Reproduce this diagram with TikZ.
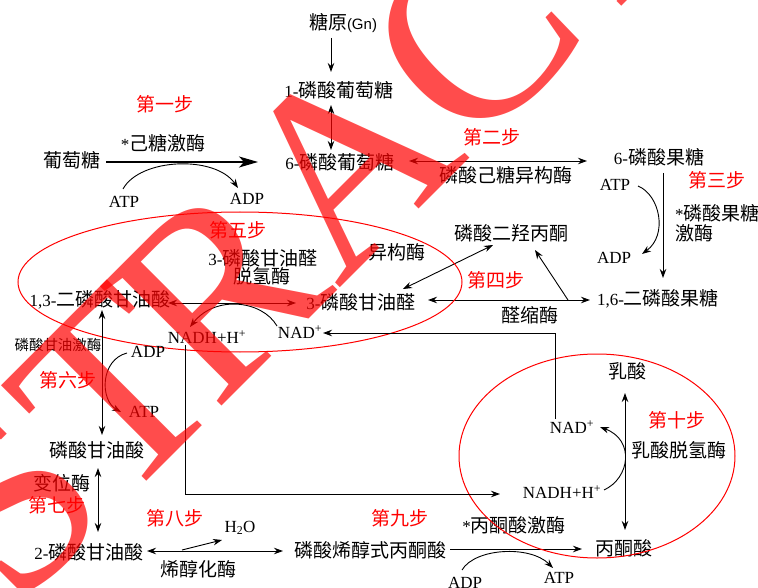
\documentclass[tikz,border=0pt]{standalone}
\usepackage{fontspec}
\setmainfont{Liberation Serif}
\newfontfamily\cjk{Noto Sans CJK SC}
\newfontfamily\lsans{Liberation Sans}
\usetikzlibrary{arrows.meta}
\newcommand{\C}[1]{{\fontsize{19}{21}\selectfont\cjk #1}}
\newcommand{\Cs}[1]{{\fontsize{14.5}{16}\selectfont\cjk #1}}
\begin{document}
\begin{tikzpicture}[x=1pt,y=-1pt,
  lbl/.style={inner sep=0pt, font=\fontsize{17}{20}\selectfont, text=black},
  steplbl/.style={inner sep=0pt, font=\fontsize{19}{21}\selectfont\cjk, text=red},
  ar/.style={line width=0.9pt, -{Stealth[length=9pt,width=6.5pt]}},
  bigar/.style={line width=1.2pt, -{Stealth[length=19pt,width=11pt,inset=5pt]}},
  dar/.style={line width=0.9pt, {Stealth[length=9pt,width=6.5pt]}-{Stealth[length=9pt,width=6.5pt]}},
  ring/.style={red, line width=1pt},
  wmk/.style={inner sep=0pt, rotate=45, anchor=base west, text=red, text opacity=0.7, font=\fontsize{260}{260}\selectfont\rmfamily}
]
\useasboundingbox (0,0) rectangle (758,588);
\clip (0,0) rectangle (758,588);

% ---- step 1 / glycogen
\node[lbl] (gn) at (343,23) {\C{糖原}{\lsans\fontsize{15}{17}\selectfont(Gn)}};
\node[lbl] (g1p) at (339,90) {1-\C{磷酸葡萄糖}};
\node[lbl] (g6p) at (340,162) {6-\C{磷酸葡萄糖}};
\node[lbl] (glc) at (72,160) {\C{葡萄糖}};
\node[steplbl] (s1) at (165,104) {第一步};
\node[lbl] (hk) at (163,143) {*\C{己糖激酶}};
\node[lbl] (atp1) at (124,202) {ATP};
\node[lbl] (adp1) at (247,199) {ADP};

\draw[ar] ([shift={(-12,15)}]gn.center) -- ([shift={(-8,-18)}]g1p.center);
\draw[dar] ([shift={(-8,15)}]g1p.center) -- ([shift={(-9,-12)}]g6p.center);
\draw[bigar] ([shift={(34,2)}]glc.center) -- ([shift={(-82,0)}]g6p.center);
\draw[ar] ([shift={(-1,-13)}]atp1.center) .. controls +(17,-31) and +(-23,-33) .. ([shift={(-9,-11)}]adp1.center);

% ---- step 2
\node[lbl] (f6p) at (659,157) {6-\C{磷酸果糖}};
\node[steplbl] (s2) at (492,137) {第二步};
\node[lbl] (pgi) at (506,175) {\C{磷酸己糖异构酶}};
\draw[dar] ([shift={(69,-1)}]g6p.center) -- ([shift={(-72,4)}]f6p.center);

% ---- step 3
\node[lbl] (atp2) at (615,185) {ATP};
\node[lbl] (adp2) at (614,258) {ADP};
\node[steplbl] (s3) at (717,180) {第三步};
\node[lbl, anchor=west] (pfk1) at (675,213) {*\C{磷酸果糖}};
\node[lbl, anchor=west] (pfk2) at (675,233) {\C{激酶}};
\node[lbl] (f16bp) at (658,299) {1,6-\C{二磷酸果糖}};
\draw[ar] ([shift={(4,16)}]f6p.center) -- ([shift={(5,-21)}]f16bp.center);
\draw[ar] ([shift={(23,1)}]atp2.center) .. controls +(22,9) and +(26,-19) .. ([shift={(28,-4)}]adp2.center);

% ---- step 4
\node[lbl] (dhap) at (511,233) {\C{磷酸二羟丙酮}};
\node[lbl] (iso) at (397,252) {\C{异构酶}};
\node[steplbl] (s4) at (496,280) {第四步};
\node[lbl] (g3p) at (361,302) {3-\C{磷酸甘油醛}};
\node[lbl] (ald) at (530,315) {\C{醛缩酶}};
\draw[dar] ([shift={(42,-13)}]g3p.center) -- ([shift={(-18,12)}]dhap.center);
\draw[dar] ([shift={(67,-2)}]g3p.center) -- ([shift={(-68,1)}]f16bp.center);
\draw[ar] ([shift={(-90,1)}]f16bp.center) -- ([shift={(24,17)}]dhap.center);

% ---- step 5
\node[lbl] (bpg) at (100,300) {1,3-\C{二磷酸甘油酸}};
\node[lbl] (gd1) at (263,258) {3-\C{磷酸甘油醛}};
\node[lbl] (gd2) at (262,276) {\C{脱氢酶}};
\node[steplbl] (s5) at (238,230) {第五步};
\node[lbl] (nadh1) at (207,337) {NADH+H\textsuperscript{+}};
\node[lbl] (nad1) at (300,332) {NAD\textsuperscript{+}};
\draw[dar] ([shift={(68,3)}]bpg.center) -- ([shift={(-65,1)}]g3p.center);
\draw[ar] ([shift={(-23,-6)}]nad1.center) .. controls +(-15,-26) and +(25,-32) .. ([shift={(-17,-10)}]nadh1.center);
\draw[ring] (240,282) ellipse [x radius=222, y radius=70];

% ---- step 6, 7
\node[lbl] (pgk) at (58,345) {\Cs{磷酸甘油激酶}};
\node[lbl] (adp3) at (148,352) {ADP};
\node[lbl] (atp3) at (144,412) {ATP};
\node[steplbl] (s6) at (68,380) {第六步};
\node[lbl] (pga3) at (97,450) {\C{磷酸甘油酸}};
\draw[dar] ([shift={(2,10)}]bpg.center) -- ([shift={(5,-15)}]pga3.center);
\draw[ar] ([shift={(-21,1)}]adp3.center) .. controls +(-27,7) and +(-21,-12) .. ([shift={(-23,0)}]atp3.center);
\node[lbl] (mut) at (62,483) {\C{变位酶}};
\node[steplbl] (s7) at (57,505) {第七步};
\node[lbl] (pga2) at (89,552) {2-\C{磷酸甘油酸}};
\draw[dar] ([shift={(1,18)}]pga3.center) -- ([shift={(9,-20)}]pga2.center);

% ---- step 8, 9
\node[steplbl] (s8) at (175,518) {第八步};
\node[lbl] (h2o) at (240,528) {H\textsubscript{2}O};
\node[lbl] (eno) at (198,569) {\C{烯醇化酶}};
\node[lbl] (pep) at (370,550) {\C{磷酸烯醇式丙酮酸}};
\draw[dar] ([shift={(58,-1)}]pga2.center) -- ([shift={(-87,1)}]pep.center);
\draw[ar] ([shift={(93,-2)}]pga2.center) -- ([shift={(-18,12)}]h2o.center);
\node[steplbl] (s9) at (400,518) {第九步};
\node[lbl] (pk) at (514,525) {*\C{丙酮酸激酶}};
\node[lbl] (pyr) at (624,548) {\C{丙酮酸}};
\node[lbl] (adp4) at (465,583) {ADP};
\node[lbl] (atp4) at (559,578) {ATP};
\draw[ar] ([shift={(80,-1)}]pep.center) -- ([shift={(-42,1)}]pyr.center);
\draw[ar] ([shift={(-3,-13)}]adp4.center) .. controls +(13,-22) and +(-23,-23) .. ([shift={(-6,-10)}]atp4.center);

% ---- step 10
\node[steplbl] (s10) at (677,420) {第十步};
\node[lbl] (lac) at (627,371) {\C{乳酸}};
\node[lbl] (ldh) at (679,450) {\C{乳酸脱氢酶}};
\node[lbl] (nad2) at (572,427) {NAD\textsuperscript{+}};
\node[lbl] (nadh2) at (562,492) {NADH+H\textsuperscript{+}};
\draw[dar] ([shift={(-2,22)}]lac.center) -- ([shift={(1,-18)}]pyr.center);
\draw[ar] ([shift={(42,-2)}]nadh2.center) .. controls +(26,-12) and +(35,13) .. ([shift={(28,0)}]nad2.center);
\draw[ring] (597,456) ellipse [x radius=138, y radius=102];

% ---- NAD / NADH shuttles
\draw[ar] ([shift={(-17,-8)}]nad2.center) |- ([shift={(23,1)}]nad1.center);
\draw[ar] ([shift={(-22,8)}]nadh1.center) |- ([shift={(-62,2)}]nadh2.center);

% ---- watermark
\node[wmk] (wS) at (15,612) {S};
\node[wmk] (wT) at (118,510) {T};
\node[wmk] (wR) at (215,413) {R};
\node[wmk] (wA) at (338,290) {A};
\node[wmk] (wC) at (471,157) {C};
\node[wmk] (wT2) at (593,35) {T};
\end{tikzpicture}
\end{document}
